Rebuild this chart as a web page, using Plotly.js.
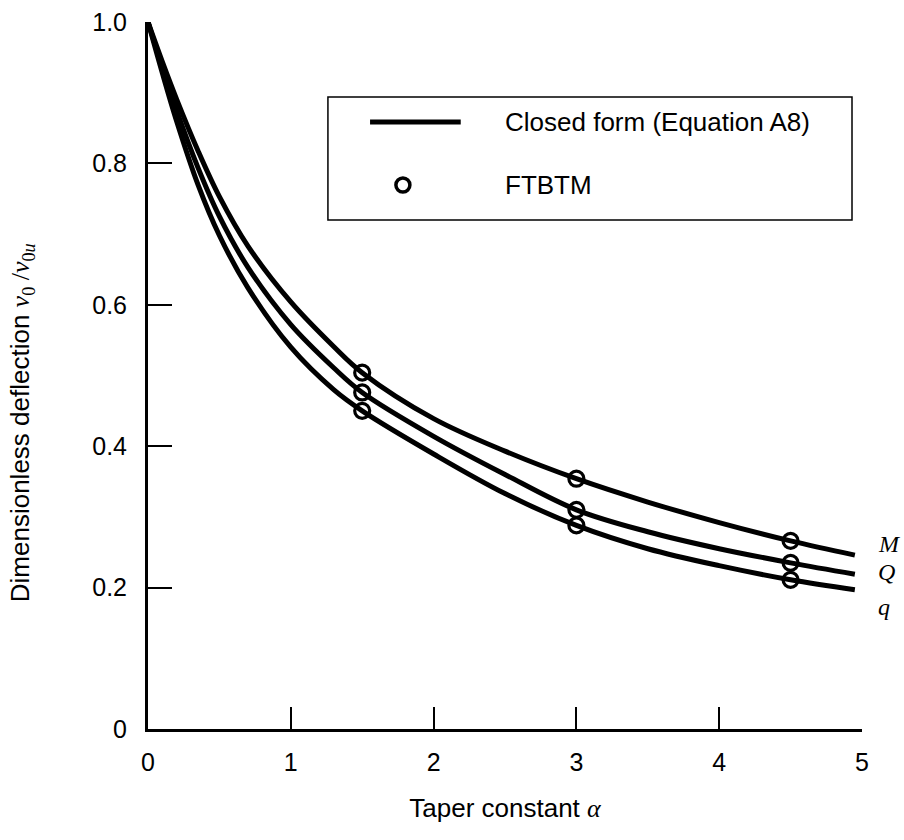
<!DOCTYPE html>
<html>
<head>
<meta charset="utf-8">
<script src="https://cdn.plot.ly/plotly-3.0.1.min.js"></script>
<style>html,body{margin:0;padding:0;background:#fff;}#chart{width:904px;height:840px;}</style>
</head>
<body>
<div id="chart"></div>
<script>
// Taper constant alpha (curve sample points)
const alpha = [0, 0.1, 0.2, 0.35, 0.5, 0.7, 1.0, 1.3, 1.5, 2.0, 2.5, 3.0, 3.5, 4.0, 4.5, 4.95];
// Closed form (Equation A8) curves
const curveM = [1.0, 0.944, 0.891, 0.818, 0.753, 0.683, 0.604, 0.541, 0.504, 0.439, 0.393, 0.354, 0.321, 0.292, 0.266, 0.246];
const curveQ = [1.0, 0.936, 0.875, 0.794, 0.725, 0.653, 0.572, 0.511, 0.476, 0.414, 0.360, 0.310, 0.279, 0.255, 0.235, 0.219];
const curveq = [1.0, 0.928, 0.860, 0.770, 0.698, 0.624, 0.540, 0.480, 0.450, 0.389, 0.333, 0.288, 0.255, 0.231, 0.211, 0.197];
// FTBTM points
const ftAlpha = [1.5, 3.0, 4.5];
const ftM = [0.504, 0.354, 0.266];
const ftQ = [0.476, 0.310, 0.235];
const ftq = [0.450, 0.288, 0.211];
// Curve labels
const curveNames = ['M', 'Q', 'q'];
const labelY = [0.262, 0.222, 0.172];
// Tick labels
const xTicks = [0, 1, 2, 3, 4, 5];
const yTicks = [0, 0.2, 0.4, 0.6, 0.8, 1.0];
const yTickText = ['0', '0.2', '0.4', '0.6', '0.8', '1.0'];
const legendNames = ['Closed form (Equation A8)', 'FTBTM'];

const sans = 'Liberation Sans, Arial, sans-serif';
const serif = 'Liberation Serif, Times New Roman, serif';
const FS = 26;

const traces = [];
[curveM, curveQ, curveq].forEach((ys, i) => {
  traces.push({
    x: alpha, y: ys, type: 'scatter', mode: 'lines', name: curveNames[i],
    line: {color: '#000', width: 5, shape: 'spline', smoothing: 1},
    showlegend: false, hoverinfo: 'skip'
  });
});
[ftM, ftQ, ftq].forEach((ys, i) => {
  traces.push({
    x: ftAlpha, y: ys, type: 'scatter', mode: 'markers', name: 'FTBTM ' + curveNames[i],
    marker: {symbol: 'circle-open', size: 15, color: '#000', line: {width: 3.2, color: '#000'}},
    cliponaxis: false, showlegend: false, hoverinfo: 'skip'
  });
});

const annotations = curveNames.map((n, i) => ({
  x: 1.02, y: labelY[i], xref: 'paper', yref: 'y', xanchor: 'left', yanchor: 'middle',
  text: '<i>' + n + '</i>', showarrow: false,
  font: {family: serif, size: 24, color: '#000'}
}));
annotations.push({
  x: -0.176, y: 0.433, xref: 'paper', yref: 'paper', xanchor: 'center', yanchor: 'middle',
  textangle: -90, showarrow: false,
  text: 'Dimensionless deflection <span style="font-family:Liberation Serif"><i>v</i><sub>0</sub> /<i>v</i><sub>0<i>u</i></sub></span>',
  font: {family: sans, size: FS, color: '#000'}
});
// legend texts
annotations.push({
  x: 0.497, y: 0.8586, xref: 'paper', yref: 'paper', xanchor: 'left', yanchor: 'middle',
  text: legendNames[0], showarrow: false, font: {family: sans, size: FS, color: '#000'}
});
annotations.push({
  x: 0.497, y: 0.7695, xref: 'paper', yref: 'paper', xanchor: 'left', yanchor: 'middle',
  text: legendNames[1], showarrow: false, font: {family: sans, size: FS, color: '#000'}
});

const shapes = [
  {type: 'rect', xref: 'paper', yref: 'paper', x0: 0.252, x1: 0.986, y0: 0.72, y1: 0.894,
   line: {color: '#000', width: 1.5}, fillcolor: 'rgba(0,0,0,0)'},
  {type: 'line', xref: 'paper', yref: 'paper', x0: 0.311, x1: 0.438, y0: 0.8586, y1: 0.8586,
   line: {color: '#000', width: 5}},
  {type: 'circle', xref: 'paper', yref: 'paper', xsizemode: 'pixel', ysizemode: 'pixel',
   xanchor: 0.357, yanchor: 0.7695, x0: -7, x1: 7, y0: -7, y1: 7,
   line: {color: '#000', width: 3.5}, fillcolor: 'rgba(0,0,0,0)'}
];

const layout = {
  width: 904, height: 840,
  margin: {l: 148, r: 42, t: 22, b: 111, autoexpand: false},
  paper_bgcolor: '#fff', plot_bgcolor: '#fff',
  showlegend: false,
  font: {family: sans, size: FS, color: '#000'},
  xaxis: {
    range: [0, 5], tickvals: xTicks, ticktext: xTicks.map(String),
    showline: true, linewidth: 3, linecolor: '#000',
    ticks: 'inside', ticklen: 22, tickwidth: 2, tickcolor: '#000',
    showgrid: false, zeroline: false, ticklabelstandoff: 9,
    tickfont: {family: sans, size: 25, color: '#000'},
    title: {text: 'Taper constant <span style="font-family:Liberation Serif"><i>α</i></span>',
            font: {family: sans, size: FS, color: '#000'}, standoff: 24},
    automargin: false, fixedrange: true
  },
  yaxis: {
    range: [0, 1], tickvals: yTicks, ticktext: yTickText,
    showline: true, linewidth: 3, linecolor: '#000',
    ticks: 'inside', ticklen: 24, tickwidth: 2, tickcolor: '#000',
    showgrid: false, zeroline: false, ticklabelstandoff: 13,
    tickfont: {family: sans, size: 25, color: '#000'},
    automargin: false, fixedrange: true
  },
  shapes: shapes,
  annotations: annotations
};

Plotly.newPlot('chart', traces, layout, {staticPlot: true, displayModeBar: false});
</script>
</body>
</html>
